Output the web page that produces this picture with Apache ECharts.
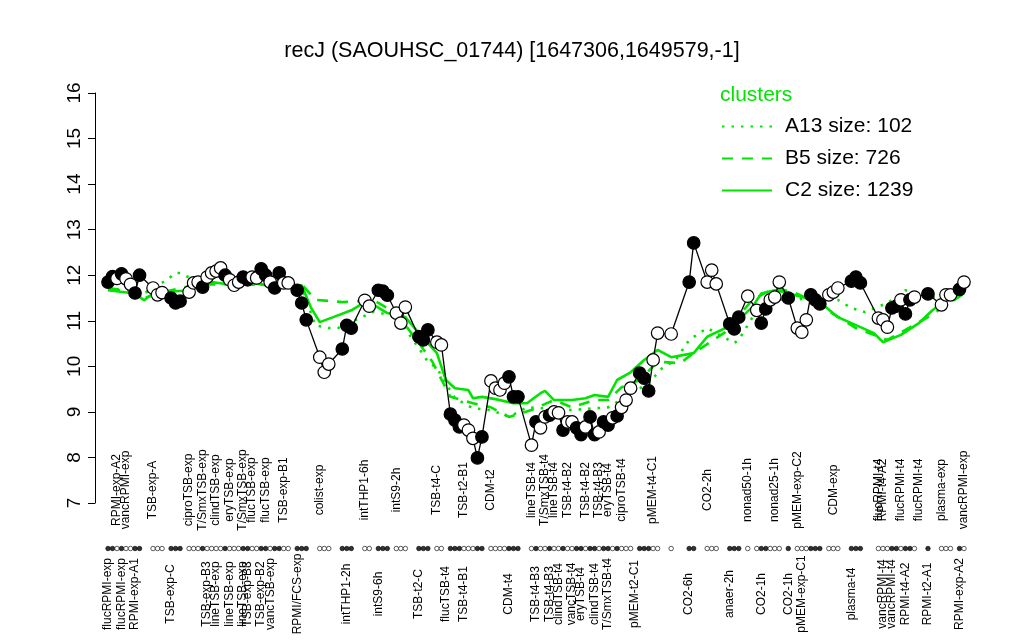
<!DOCTYPE html>
<html><head><meta charset="utf-8">
<script src="https://cdn.jsdelivr.net/npm/echarts@6/dist/echarts.min.js"></script>
<style>html,body{margin:0;padding:0;background:#fff}#c{width:1024px;height:640px}</style>
</head><body><div id="c"></div>
<script>
const chartTitle = 'recJ (SAOUHSC_01744) [1647306,1649579,-1]';
const legendTitle = 'clusters';
const clusterNames = ['A13 size: 102', 'B5 size: 726', 'C2 size: 1239'];
const yTickMin = 7, yTickMax = 16;

const topLabels = [
 '', '', 'RPMI-exp-A2', '', 'vancRPMI-exp', '', '', '', '', '',
 'TSB-exp-A', '', '', '', '', '', '', '', 'ciproTSB-exp', '',
 '', 'T/SmxTSB-exp', '', '', 'clindTSB-exp', '', '', 'eryTSB-exp', '', '',
 'T/SmxTSB-exp', '', 'flucTSB-exp', '', '', 'flucTSB-exp', '', '', '', 'TSB-exp-B1',
 '', '', '', '', '', '', '', 'colist-exp', '', '',
 '', '', '', '', '', '', '', 'intTHP1-6h', '', '',
 '', '', '', '', 'intS9-2h', '', '', '', '', '',
 '', '', '', 'TSB-t4-C', '', '', '', '', '', 'TSB-t2-B1',
 '', '', '', '', '', 'CDM-t2', '', '', '', '',
 '', '', '', '', 'lineTSB-t4', '', '', 'T/SmxTSB-t4', '', 'lineTSB-t4',
 '', '', 'TSB-t4-B2', '', '', '', 'TSB-t4-B2', '', '', 'TSB-t4-B3',
 '', 'eryTSB-t4', '', '', 'ciproTSB-t4', '', '', '', '', '',
 '', 'pMEM-t4-C1', '', '', '', '', '', '', '', '',
 '', '', '', 'CO2-2h', '', '', '', '', '', '',
 '', '', 'nonad50-1h', '', '', '', '', '', 'nonad25-1h', '',
 '', '', '', 'pMEM-exp-C2', '', '', '', '', '', '',
 '', 'CDM-exp', '', '', '', '', '', '', '', '',
 '', 'flucRPMI-t4', 'RPMI-t4-A2', '', '', '', 'flucRPMI-t4', '', '', '',
 'flucRPMI-t4', '', '', '', '', 'plasma-exp', '', '', '', '',
 'vancRPMI-exp'
];

const bottomLabels = [
 'flucRPMI-exp', '', '', 'flucRPMI-exp', '', '', 'RPMI-exp-A1', '', '', '',
 '', '', '', '', 'TSB-exp-C', '', '', '', '', '',
 '', '', 'TSB-exp-B3', '', 'lineTSB-exp', '', '', 'lineTSB-exp', '', '',
 'lineTSB-exp', 'TSB-exp-B3', '', '', 'TSB-exp-B2', '', 'vancTSB-exp', '', '', '',
 '', '', 'RPMI/FCS-exp', '', '', '', '', '', '', '',
 '', '', '', 'intTHP1-2h', '', '', '', '', '', '',
 'intS9-6h', '', '', '', '', '', '', '', '', 'TSB-t2-C',
 '', '', '', '', '', 'flucTSB-t4', '', '', '', 'TSB-t4-B1',
 '', '', '', '', '', '', '', '', '', 'CDM-t4',
 '', '', '', '', '', 'TSB-t4-B3', '', '', 'TSB-t4-B3', '',
 'clindTSB-t4', '', '', 'vancTSB-t4', '', 'eryTSB-t4', '', '', 'clindTSB-t4', '',
 '', 'T/SmxTSB-t4', '', '', '', '', '', 'pMEM-t2-C1', '', '',
 '', '', '', '', '', '', '', '', '', 'CO2-6h',
 '', '', '', '', '', '', '', '', 'anaer-2h', '',
 '', '', '', '', '', 'CO2-1h', '', '', '', '',
 '', 'CO2-1h', '', '', 'pMEM-exp-C1', '', '', '', '', '',
 '', '', '', '', '', 'plasma-t4', '', '', '', '',
 '', '', 'vancRPMI-t4', '', 'vancRPMI-t4', '', '', 'RPMI-t4-A2', '', '',
 '', '', 'RPMI-t2-A1', '', '', '', '', '', '', 'RPMI-exp-A2',
 ''
];

const expr = [
 11.85, 11.97, 11.93, 12.03, 11.92, 11.80, 11.61, 12.00, null, null,
 11.72, 11.57, 11.62, null, 11.50, 11.39, 11.43, null, 11.63, 11.83,
 11.85, 11.74, 11.96, 12.05, 12.09, 12.16, 12.00, 11.90, 11.78, 11.85,
 11.96, 11.90, 11.96, 11.94, 12.14, 12.00, 11.85, 11.72, 12.05, 11.83,
 11.83, null, 11.67, 11.39, 11.02, null, null, 10.20, 9.87, 10.05,
 null, null, 10.38, 10.90, 10.84, null, null, 11.45, 11.32, null,
 11.67, 11.65, 11.56, null, 11.17, 10.95, 11.30, null, null, 10.65,
 10.58, 10.80, null, 10.53, 10.47, null, 8.95, 8.82, 8.67, 8.71,
 8.60, 8.42, 7.99, 8.45, null, 9.68, 9.52, 9.48, 9.63, 9.77,
 9.33, 9.33, null, null, 8.27, 8.78, 8.65, 8.89, 8.93, 9.00,
 8.98, 8.60, 8.78, 8.78, 8.65, 8.50, 8.67, 8.89, 8.50, 8.56,
 8.78, 8.71, 8.87, 8.91, 9.10, 9.26, 9.52, null, 9.85, 9.74,
 9.46, 10.14, 10.73, null, null, 10.71, null, null, null, 11.85,
 12.71, null, null, 11.85, 12.11, 11.81, null, null, 10.93, 10.82,
 11.08, null, 11.54, null, 11.23, 10.95, 11.26, 11.46, 11.52, 11.85,
 null, 11.50, null, 10.84, 10.75, 11.02, 11.57, 11.46, 11.37, null,
 11.57, 11.63, 11.72, null, null, 11.87, 11.96, 11.83, null, null,
 null, 11.06, 11.02, 10.86, 11.28, 11.32, 11.46, 11.15, 11.46, 11.52,
 null, null, 11.59, null, null, 11.35, 11.57, 11.57, null, 11.69,
 11.85
];

// 1 = filled marker, 0 = open marker
const filled = [
 1,1,0,1,0,0,1,1,0,0,
 0,0,0,0,1,1,1,0,0,0,
 0,1,0,0,0,0,1,0,0,0,
 1,1,0,0,1,1,0,1,1,0,
 0,0,1,1,1,0,0,0,0,0,
 0,0,1,1,1,0,0,0,0,0,
 1,1,1,0,0,0,0,0,0,1,
 1,1,0,0,0,0,1,1,1,0,
 0,0,1,1,0,0,0,0,0,1,
 1,1,0,0,0,1,0,0,1,0,
 0,1,0,0,1,1,0,1,1,0,
 1,1,0,1,0,0,0,0,1,1,
 1,0,0,0,0,0,0,0,0,1,
 1,0,0,0,0,0,0,0,1,1,
 1,0,0,0,0,1,1,0,0,0,
 0,1,0,0,0,0,1,1,1,0,
 0,0,0,0,0,1,1,1,0,0,
 0,0,0,0,1,1,0,1,1,0,
 0,0,1,0,0,0,0,0,0,1,
 0
];

// cluster profiles: [condition index, expression]
const clusterA13 = [[0,11.7],[8,11.6],[13,11.89],[15,12.05],[16,12.05],[20,11.85],[28,11.8],[35,11.8],[43,11.75],[46,10.9],[49,10.84],[51,10.84],[59,11.2],[64,11.1],[69,10.4],[71,10.1],[73,9.96],[77,9.3],[81,9.08],[85,9.04],[89,8.89],[93,9.1],[103,9.04],[111,9.1],[120,9.63],[123,9.96],[126,10.14],[129,10.58],[133,10.84],[139,10.51],[140,10.58],[144,11.23],[148,11.46],[153,11.46],[156,11.52],[162,11.46],[165,11.28],[168,11.19],[173,11.39],[177,11.67],[183,11.52],[190,11.6]];
const clusterB5 = [[0,11.72],[6,11.63],[8,11.5],[13,11.65],[20,11.8],[28,11.8],[35,11.8],[43,11.8],[46,11.46],[52,11.41],[59,11.45],[64,11.17],[69,10.51],[72,10.1],[76,9.33],[81,9.19],[85,9.1],[89,8.89],[94,9.04],[99,9.26],[103,9.1],[108,9.26],[111,9.26],[114,9.54],[118,9.7],[122,10.1],[127,10.07],[130,10.29],[137,10.75],[143,11.46],[148,11.72],[152,11.63],[156,11.46],[166,10.84],[173,10.58],[177,10.8],[182,11.08],[190,11.6]];
const clusterC2 = [[0,11.67],[6,11.6],[8,11.45],[10,11.6],[13,11.63],[18,11.67],[20,11.78],[23,11.85],[28,11.78],[32,11.83],[35,11.78],[40,11.74],[43,11.78],[45,11.3],[47,10.97],[50,11.08],[54,11.23],[56,11.35],[59,11.35],[62,11.17],[66,11.08],[69,10.73],[73,10.29],[75,9.7],[77,9.52],[80,9.48],[81,9.3],[83,9.33],[86,9.28],[90,9.19],[93,9.19],[96,9.41],[97,9.46],[99,9.26],[103,9.26],[106,9.3],[108,9.37],[111,9.33],[113,9.7],[116,9.87],[119,10.14],[122,10.36],[125,10.2],[130,10.29],[133,10.65],[137,10.84],[140,11.02],[143,11.3],[145,11.6],[148,11.67],[150,11.63],[154,11.52],[158,11.41],[162,11.08],[167,10.86],[170,10.73],[172,10.53],[176,10.69],[180,10.95],[183,11.23],[186,11.46],[190,11.6]];

const FONT = 'Liberation Sans, Arial, sans-serif';
const GREEN = '#00e400';

const mainData = expr.map((v, i) => v == null ? '-' : {
  value: v,
  itemStyle: { color: filled[i] ? '#000' : '#fff', borderColor: '#000', borderWidth: 1.2 }
});
const rugData = expr.map((v, i) => v == null ? '-' : {
  value: 0,
  itemStyle: { color: filled[i] ? '#000' : '#fff', borderColor: '#000', borderWidth: 0.8 }
});

const chart = echarts.init(document.getElementById('c'), null, { renderer: 'canvas' });
const labelAxisCommon = {
  gridIndex: 1, type: 'category', boundaryGap: false,
  axisLine: { show: false }, axisTick: { show: false }, splitLine: { show: false }
};
chart.setOption({
  animation: false,
  backgroundColor: '#fff',
  title: [
    { text: chartTitle, left: 'center', top: 35,
      textStyle: { fontFamily: FONT, fontSize: 21.5, fontWeight: 'normal', color: '#000' } },
    { text: legendTitle, left: 715, top: 80,
      textStyle: { fontFamily: FONT, fontSize: 21, fontWeight: 'normal', color: GREEN } }
  ],
  legend: {
    data: clusterNames, orient: 'vertical', left: 716, top: 111,
    itemWidth: 50, itemHeight: 14, itemGap: 11, selectedMode: false,
    itemStyle: { color: 'rgba(0,0,0,0)', borderColor: 'rgba(0,0,0,0)', borderWidth: 0 },
    textStyle: { fontFamily: FONT, fontSize: 21, color: '#000', padding: [0, 0, 0, 8] }
  },
  grid: [
    { left: 108, right: 60, top: 93, bottom: 137 },
    { left: 108, right: 60, top: 543, height: 11 }
  ],
  xAxis: [
    { gridIndex: 0, type: 'category', data: topLabels, boundaryGap: false, show: false },
    Object.assign({}, labelAxisCommon, { position: 'top', data: topLabels,
      axisLabel: { interval: 0, rotate: 90, align: 'center', verticalAlign: 'middle', margin: 53,
        fontFamily: FONT, fontSize: 12, color: '#000' } }),
    Object.assign({}, labelAxisCommon, { position: 'bottom', data: bottomLabels,
      axisLabel: { interval: 0, rotate: 90, align: 'center', verticalAlign: 'middle', margin: 40,
        fontFamily: FONT, fontSize: 12, color: '#000' } })
  ],
  yAxis: [
    { gridIndex: 0, type: 'value', min: yTickMin, max: yTickMax, interval: 1, offset: 13,
      axisLine: { show: true, lineStyle: { color: '#000', width: 1 } },
      axisTick: { show: true, length: 7, lineStyle: { color: '#000' } },
      splitLine: { show: false },
      axisLabel: { rotate: 90, align: 'center', verticalAlign: 'bottom', margin: 11,
        fontFamily: FONT, fontSize: 19, color: '#000' } },
    { gridIndex: 1, type: 'value', min: -1, max: 1, show: false }
  ],
  series: [
    { name: clusterNames[0], type: 'line', xAxisIndex: 0, yAxisIndex: 0, data: clusterA13,
      symbol: 'none', connectNulls: true, z: 2,
      lineStyle: { color: GREEN, width: 2.6, type: [2.5, 7] }, itemStyle: { color: GREEN } },
    { name: clusterNames[1], type: 'line', xAxisIndex: 0, yAxisIndex: 0, data: clusterB5,
      symbol: 'none', connectNulls: true, z: 2,
      lineStyle: { color: GREEN, width: 2.6, type: [11, 9] }, itemStyle: { color: GREEN } },
    { name: clusterNames[2], type: 'line', xAxisIndex: 0, yAxisIndex: 0, data: clusterC2,
      symbol: 'none', connectNulls: true, z: 2,
      lineStyle: { color: GREEN, width: 2.6, type: 'solid' }, itemStyle: { color: GREEN } },
    { name: 'expression', type: 'line', xAxisIndex: 0, yAxisIndex: 0, data: mainData,
      connectNulls: true, symbol: 'circle', symbolSize: 12.5, showSymbol: true, showAllSymbol: true, z: 5,
      lineStyle: { color: '#000', width: 1.3 } },
    { name: 'rug', type: 'scatter', xAxisIndex: 1, yAxisIndex: 1, data: rugData,
      symbol: 'circle', symbolSize: 4.5, silent: true, z: 5 }
  ]
});
</script>
</body></html>
